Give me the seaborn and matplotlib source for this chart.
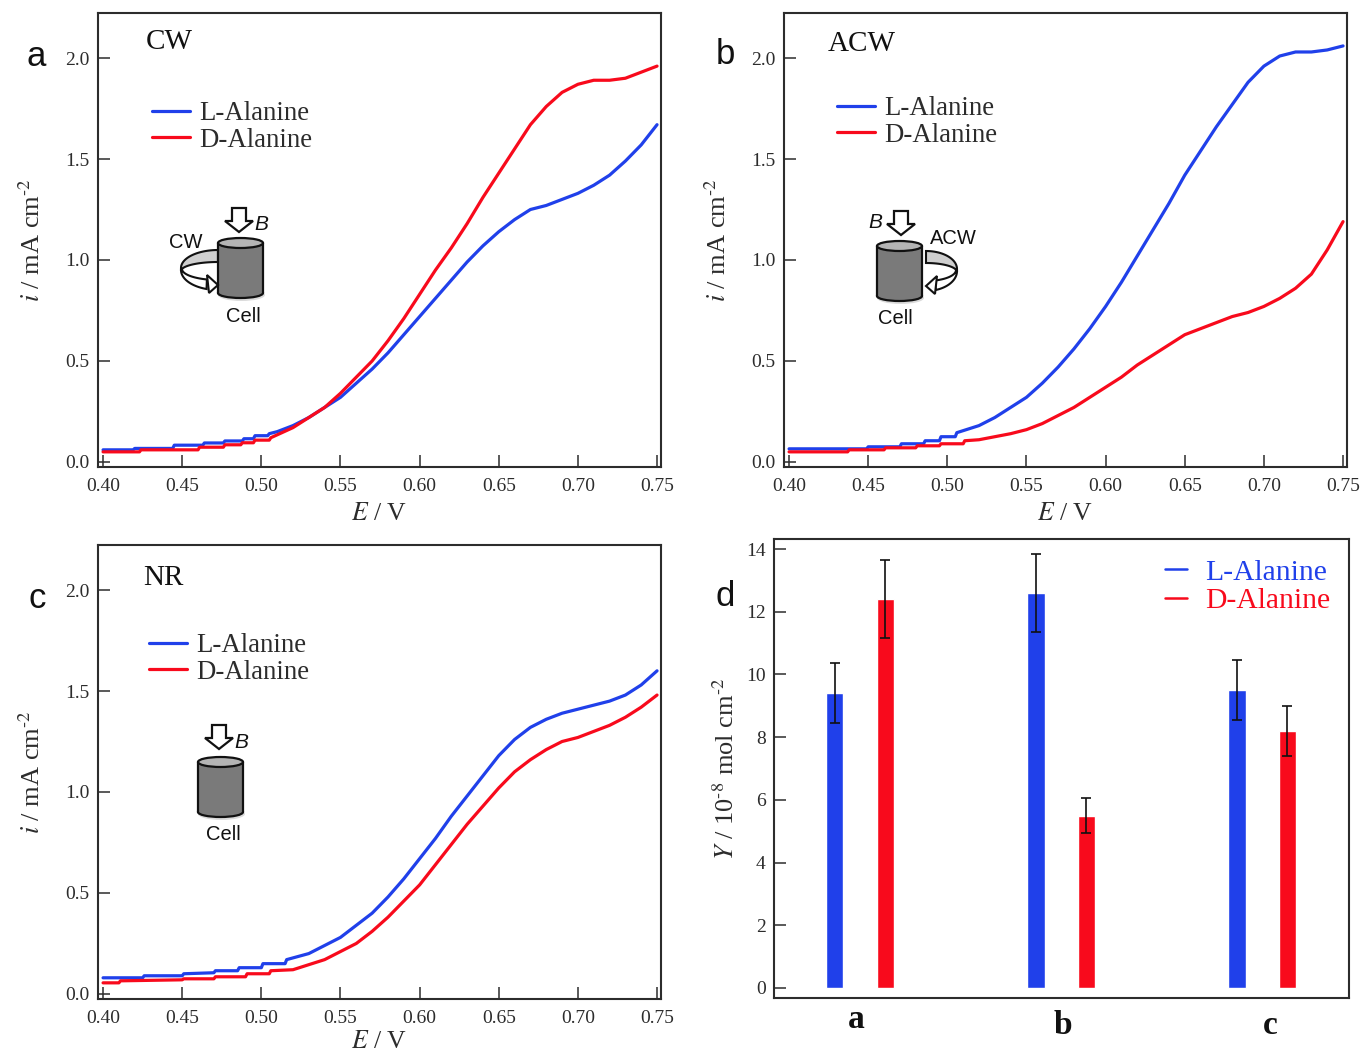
import numpy as np
import pandas as pd
import matplotlib
matplotlib.use("Agg")
import matplotlib.pyplot as plt
from matplotlib.lines import Line2D
from matplotlib.patches import Ellipse, Polygon, Rectangle
import seaborn as sns

# ===============================
# DATA
# ===============================

a_l_x = [0.40, 0.419, 0.42, 0.444, 0.445, 0.463, 0.464, 0.476, 0.477, 0.488, 0.489, 0.495, 0.496, 0.504, 0.505, 0.51, 0.52, 0.53, 0.54, 0.55, 0.56, 0.57, 0.58, 0.59, 0.60, 0.61, 0.62, 0.63, 0.64, 0.65, 0.66, 0.67, 0.68, 0.69, 0.70, 0.71, 0.72, 0.73, 0.74, 0.75]
a_l_y = [0.06, 0.06, 0.067, 0.067, 0.083, 0.083, 0.094, 0.094, 0.104, 0.104, 0.115, 0.115, 0.13, 0.13, 0.14, 0.15, 0.18, 0.22, 0.27, 0.32, 0.39, 0.46, 0.54, 0.63, 0.72, 0.81, 0.90, 0.99, 1.07, 1.14, 1.20, 1.25, 1.27, 1.30, 1.33, 1.37, 1.42, 1.49, 1.57, 1.67]
a_d_x = [0.40, 0.423, 0.424, 0.46, 0.461, 0.476, 0.477, 0.487, 0.488, 0.495, 0.496, 0.505, 0.506, 0.52, 0.53, 0.54, 0.55, 0.56, 0.57, 0.58, 0.59, 0.60, 0.61, 0.62, 0.63, 0.64, 0.65, 0.66, 0.67, 0.68, 0.69, 0.70, 0.71, 0.72, 0.73, 0.74, 0.75]
a_d_y = [0.05, 0.05, 0.06, 0.06, 0.073, 0.073, 0.085, 0.085, 0.095, 0.095, 0.108, 0.108, 0.12, 0.17, 0.22, 0.27, 0.34, 0.42, 0.50, 0.60, 0.71, 0.83, 0.95, 1.06, 1.18, 1.31, 1.43, 1.55, 1.67, 1.76, 1.83, 1.87, 1.89, 1.89, 1.90, 1.93, 1.96]

b_l_x = [0.40, 0.449, 0.45, 0.47, 0.471, 0.485, 0.486, 0.495, 0.496, 0.505, 0.506, 0.52, 0.53, 0.54, 0.55, 0.56, 0.57, 0.58, 0.59, 0.60, 0.61, 0.62, 0.63, 0.64, 0.65, 0.66, 0.67, 0.68, 0.69, 0.70, 0.71, 0.72, 0.73, 0.74, 0.75]
b_l_y = [0.065, 0.065, 0.075, 0.075, 0.09, 0.09, 0.105, 0.105, 0.125, 0.125, 0.145, 0.18, 0.22, 0.27, 0.32, 0.39, 0.47, 0.56, 0.66, 0.77, 0.89, 1.02, 1.15, 1.28, 1.42, 1.54, 1.66, 1.77, 1.88, 1.96, 2.01, 2.03, 2.03, 2.04, 2.06]
b_d_x = [0.40, 0.437, 0.438, 0.46, 0.461, 0.48, 0.481, 0.495, 0.496, 0.51, 0.511, 0.52, 0.54, 0.55, 0.56, 0.57, 0.58, 0.59, 0.60, 0.61, 0.62, 0.63, 0.64, 0.65, 0.66, 0.67, 0.68, 0.69, 0.70, 0.71, 0.72, 0.73, 0.74, 0.75]
b_d_y = [0.05, 0.05, 0.06, 0.06, 0.07, 0.07, 0.08, 0.08, 0.09, 0.09, 0.105, 0.11, 0.14, 0.16, 0.19, 0.23, 0.27, 0.32, 0.37, 0.42, 0.48, 0.53, 0.58, 0.63, 0.66, 0.69, 0.72, 0.74, 0.77, 0.81, 0.86, 0.93, 1.05, 1.19]

c_l_x = [0.40, 0.425, 0.426, 0.45, 0.451, 0.47, 0.471, 0.485, 0.486, 0.50, 0.501, 0.515, 0.516, 0.53, 0.54, 0.55, 0.56, 0.57, 0.58, 0.59, 0.60, 0.61, 0.62, 0.63, 0.64, 0.65, 0.66, 0.67, 0.68, 0.69, 0.70, 0.71, 0.72, 0.73, 0.74, 0.75]
c_l_y = [0.08, 0.08, 0.09, 0.09, 0.10, 0.105, 0.115, 0.115, 0.13, 0.13, 0.15, 0.15, 0.17, 0.20, 0.24, 0.28, 0.34, 0.40, 0.48, 0.57, 0.67, 0.77, 0.88, 0.98, 1.08, 1.18, 1.26, 1.32, 1.36, 1.39, 1.41, 1.43, 1.45, 1.48, 1.53, 1.60]
c_d_x = [0.40, 0.41, 0.411, 0.45, 0.451, 0.47, 0.471, 0.49, 0.491, 0.505, 0.506, 0.52, 0.54, 0.55, 0.56, 0.57, 0.58, 0.59, 0.60, 0.61, 0.62, 0.63, 0.64, 0.65, 0.66, 0.67, 0.68, 0.69, 0.70, 0.71, 0.72, 0.73, 0.74, 0.75]
c_d_y = [0.055, 0.055, 0.065, 0.07, 0.075, 0.075, 0.085, 0.085, 0.10, 0.10, 0.115, 0.12, 0.17, 0.21, 0.25, 0.31, 0.38, 0.46, 0.54, 0.64, 0.74, 0.84, 0.93, 1.02, 1.10, 1.16, 1.21, 1.25, 1.27, 1.30, 1.33, 1.37, 1.42, 1.48]

groups = ["a", "b", "c"]
l_yield = [9.4, 12.6, 9.5]
d_yield = [12.4, 5.5, 8.2]
l_err = [0.95, 1.25, 0.95]
d_err = [1.25, 0.55, 0.8]

x_ticks = [0.40, 0.45, 0.50, 0.55, 0.60, 0.65, 0.70, 0.75]
y_ticks = [0.0, 0.5, 1.0, 1.5, 2.0]
d_ticks = [0, 2, 4, 6, 8, 10, 12, 14]

BLUE = "#2040ea"
RED = "#f80a1c"
DARK = "#2c2c2c"
INK = "#111111"
SERIF = "Liberation Serif"
SANS = "Liberation Sans"
W, H = 1363, 1056

# ===============================
# STYLE
# ===============================

sns.set_style("ticks")
plt.rcParams["font.family"] = [SERIF, "DejaVu Sans"]
plt.rcParams["mathtext.fontset"] = "stix"
plt.rcParams["text.color"] = DARK
plt.rcParams["axes.labelcolor"] = DARK
plt.rcParams["xtick.color"] = DARK
plt.rcParams["ytick.color"] = DARK
plt.rcParams["axes.edgecolor"] = DARK

fig = plt.figure(figsize=(W / 100, H / 100), dpi=100)


def make_axes(left, top, right, bottom):
    return fig.add_axes([left / W, 1 - bottom / H, (right - left) / W, (bottom - top) / H])


def style_axes(ax):
    for s in ax.spines.values():
        s.set_linewidth(1.5)
    ax.tick_params(direction="in", length=8.6, width=1.1, labelsize=14, pad=6)
    ax.tick_params(axis="x", pad=8)


def curve_panel(box, lx, ly, dx, dy, legend_px, xpad=6):
    ax = make_axes(*box)
    df = pd.DataFrame({
        "E": lx + dx,
        "i": ly + dy,
        "sample": ["L-Alanine"] * len(lx) + ["D-Alanine"] * len(dx),
    })
    sns.lineplot(data=df, x="E", y="i", hue="sample", palette={"L-Alanine": BLUE, "D-Alanine": RED},
                 hue_order=["L-Alanine", "D-Alanine"], linewidth=2.3, errorbar=None,
                 estimator=None, sort=False, ax=ax, legend=False)
    ax.set_xlim(0.3968, 0.7525)
    ax.set_ylim(-0.025, 2.223)
    ax.set_xticks(x_ticks)
    ax.set_xticklabels([f"{v:.2f}" for v in x_ticks])
    ax.set_yticks(y_ticks)
    ax.set_yticklabels([f"{v:.1f}" for v in y_ticks])
    style_axes(ax)
    ax.set_xlabel(r"$\mathit{E}$ / V", fontsize=18.5, labelpad=xpad)
    ax.set_ylabel(r"$\mathit{i}$ / mA cm$^{\text{-2}}$", fontsize=19, labelpad=15)
    handles = [Line2D([], [], color=BLUE, lw=2.3), Line2D([], [], color=RED, lw=2.3)]
    ax.legend(handles, ["L-Alanine", "D-Alanine"], frameon=False, fontsize=19.3,
              loc="upper left", handlelength=1.4, handletextpad=0.38, labelspacing=0.07,
              borderpad=0, borderaxespad=0,
              bbox_to_anchor=((legend_px[0] - box[0]) / (box[2] - box[0]),
                              (box[3] - legend_px[1]) / (box[3] - box[1])))
    return ax


ax_a = curve_panel((98, 13, 661, 467), a_l_x, a_l_y, a_d_x, a_d_y, (152, 101))
ax_b = curve_panel((784, 13, 1347, 467), b_l_x, b_l_y, b_d_x, b_d_y, (837, 96))
ax_c = curve_panel((98, 545, 661, 999), c_l_x, c_l_y, c_d_x, c_d_y, (149, 633), xpad=3)

# ===============================
# PANEL D
# ===============================

ax_d = make_axes(774, 539, 1349, 998)
bars = pd.DataFrame({
    "group": groups * 2,
    "Y": l_yield + d_yield,
    "sample": ["L-Alanine"] * 3 + ["D-Alanine"] * 3,
})
sns.barplot(data=bars, x="group", y="Y", hue="sample", hue_order=["L-Alanine", "D-Alanine"],
            palette={"L-Alanine": BLUE, "D-Alanine": RED}, width=0.5, gap=0.66, saturation=1,
            errorbar=None, legend=False, ax=ax_d)
for container, err in zip(ax_d.containers, [l_err, d_err]):
    centers = [p.get_x() + p.get_width() / 2 for p in container]
    heights = [p.get_height() for p in container]
    ax_d.errorbar(centers, heights, yerr=err, fmt="none", ecolor=INK,
                  elinewidth=1.2, capsize=3.4, capthick=1.2)
ax_d.set_xlim(-0.428, 2.432)
ax_d.set_ylim(-0.32, 14.32)
ax_d.set_xticks([])
ax_d.set_xlabel("")
ax_d.set_yticks(d_ticks)
style_axes(ax_d)
ax_d.set_ylabel(r"$\mathit{Y}$ / 10$^{\text{-8}}$ mol cm$^{\text{-2}}$", fontsize=19, labelpad=5)
d_handles = [Line2D([], [], color=BLUE, lw=1.8), Line2D([], [], color=RED, lw=1.8)]
leg = ax_d.legend(d_handles, ["L-Alanine", "D-Alanine"], frameon=False, fontsize=21.3, loc="upper left",
                  handlelength=0.75, handletextpad=0.6, labelspacing=0.07, borderpad=0, borderaxespad=0,
                  bbox_to_anchor=((1165 - 774) / 575, (998 - 559) / 459))
for t, c in zip(leg.get_texts(), [BLUE, RED]):
    t.set_color(c)

# ===============================
# OVERLAY (pixel coordinates): panel letters, titles, cell sketches
# ===============================

ov = fig.add_axes([0, 0, 1, 1], facecolor="none")
ov.set_xlim(0, W)
ov.set_ylim(H, 0)
ov.axis("off")

for letter, px, py in [("a", 36, 57), ("b", 725, 55), ("c", 37, 598), ("d", 725, 597)]:
    ov.text(px, py, letter, family=SANS, fontsize=25, ha="center", va="center", color=INK)
for title, px, py in [("CW", 146, 42), ("ACW", 828, 44), ("NR", 143, 578)]:
    ov.text(px, py, title, fontsize=21, ha="left", va="center", color=INK)
for letter, px, py in [("a", 856, 1020), ("b", 1063, 1026), ("c", 1270, 1026)]:
    ov.text(px, py, letter, fontsize=24, fontweight="bold", ha="center", va="center", color=INK)


def draw_cell(left, top):
    # cylinder 45 px wide, 60 px tall
    cx = left + 22.5
    ov.add_patch(Ellipse((cx + 1, top + 57), 47, 12, fc="#999999", ec="none", alpha=0.35, zorder=2.8))
    ov.add_patch(Ellipse((cx, top + 55), 45, 10, fc="#7a7a7a", ec=INK, lw=1.6, zorder=3))
    ov.add_patch(Rectangle((left, top + 5), 45, 50, fc="#7a7a7a", ec="none", zorder=3))
    ov.plot([left, left], [top + 5, top + 55], color=INK, lw=1.6, zorder=4)
    ov.plot([left + 45, left + 45], [top + 5, top + 55], color=INK, lw=1.6, zorder=4)
    ov.add_patch(Ellipse((cx, top + 5), 45, 10, fc="#b4b4b4", ec=INK, lw=1.6, zorder=5))


def draw_field_arrow(cx, tip_y):
    pts = [(-7, -24), (7, -24), (7, -11), (14, -11), (0, 0), (-14, -11), (-7, -11)]
    ov.add_patch(Polygon([(cx + x, tip_y + y) for x, y in pts], fc="white", ec=INK, lw=1.6, zorder=6))


def arc(x0, yc, rx, ry, side, start, stop):
    t = np.radians(np.linspace(start, stop, 24))
    return [(x0 + side * rx * np.cos(a), yc - ry * np.sin(a)) for a in t]


def draw_swirl(x0, y0, rx, side):
    # ribbon leaves the cylinder wall, wraps round and ends in an arrow head; side -1 left, +1 right
    back = arc(x0, y0, rx, 18, side, 90, 0) + arc(x0, y0 + 3, rx, 9, side, 0, 90)
    ov.add_patch(Polygon(back, fc="#cfcfcf", ec=INK, lw=1.5, zorder=2))
    end = -72
    front = arc(x0, y0 + 2, rx, 20, side, 0, end) + arc(x0, y0 + 1, rx - 1, 11, side, end, 0)
    ov.add_patch(Polygon(front, fc="white", ec=INK, lw=1.5, zorder=2.2))
    head = [(x0 + side * 11, y0 + 7), (x0, y0 + 17), (x0 + side * 9, y0 + 25)]
    ov.add_patch(Polygon(head, fc="white", ec=INK, lw=1.5, zorder=3.5))


# panel a
draw_swirl(218, 268, 37, -1)
draw_cell(218, 238)
draw_field_arrow(239, 232)
ov.text(261, 224, "B", family=SANS, style="italic", fontsize=15, ha="center", va="center", color=INK)
ov.text(186, 243, "CW", family=SANS, fontsize=14.5, ha="center", va="center", color=INK)
ov.text(243, 316, "Cell", family=SANS, fontsize=14.5, ha="center", va="center", color=INK)

# panel b
draw_swirl(926, 269, 31, 1)
draw_cell(877, 241)
draw_field_arrow(901, 235)
ov.text(875, 223, "B", family=SANS, style="italic", fontsize=15, ha="center", va="center", color=INK)
ov.text(953, 239, "ACW", family=SANS, fontsize=14.5, ha="center", va="center", color=INK)
ov.text(895, 318, "Cell", family=SANS, fontsize=14.5, ha="center", va="center", color=INK)

# panel c
draw_cell(198, 757)
draw_field_arrow(219, 749)
ov.text(241, 743, "B", family=SANS, style="italic", fontsize=15, ha="center", va="center", color=INK)
ov.text(223, 835, "Cell", family=SANS, fontsize=14.5, ha="center", va="center", color=INK)

fig.savefig("out.png", dpi=100)
